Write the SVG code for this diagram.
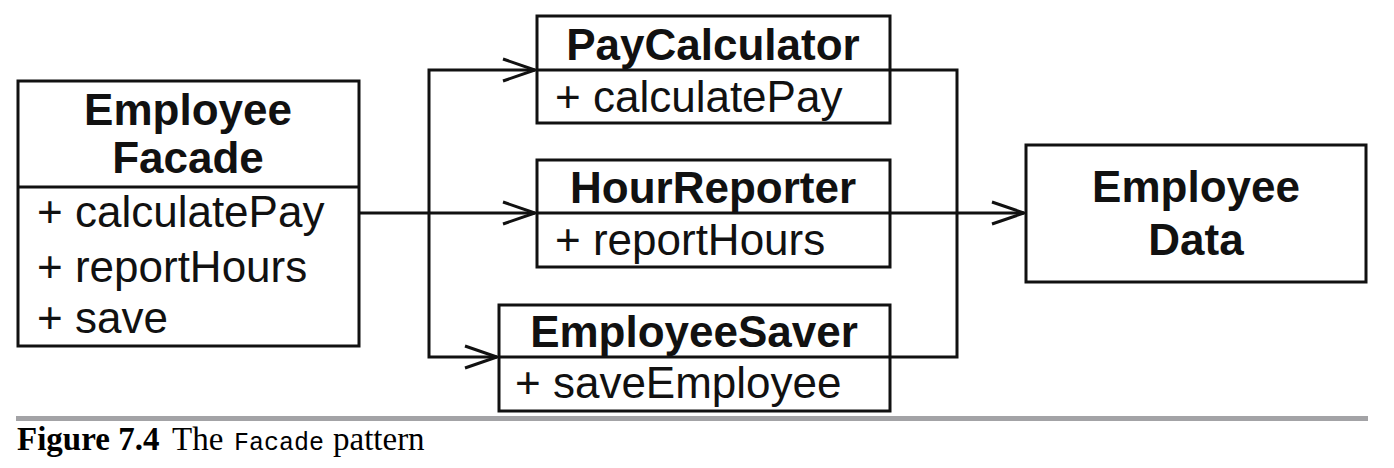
<svg xmlns="http://www.w3.org/2000/svg" width="1394" height="468" viewBox="0 0 1394 468">
<defs>
<style>
.box{fill:#fff;stroke:#111;stroke-width:3}
.ln{fill:none;stroke:#111;stroke-width:3}
.t{font-family:"Liberation Sans",Arial,sans-serif;font-size:44px;fill:#111}
.b{font-weight:bold;text-anchor:middle}
.cap{font-family:"Liberation Serif","Times New Roman",serif;font-size:33px;fill:#000}
.mono{font-family:"Liberation Mono","Courier New",monospace;font-size:25px}
</style>
<marker id="arr" markerWidth="40" markerHeight="30" refX="34" refY="13" orient="auto" markerUnits="userSpaceOnUse" viewBox="0 0 40 30">
<path d="M2,2 L34,13 L2,24" fill="none" stroke="#111" stroke-width="3"/>
</marker>
</defs>
<rect width="1394" height="468" fill="#fff"/>
<g id="connectors">
<path class="ln" d="M359,213 H535" marker-end="url(#arr)"/>
<path class="ln" d="M429,213 V70 H535" marker-end="url(#arr)"/>
<path class="ln" d="M429,213 V357 H497" marker-end="url(#arr)"/>
<path class="ln" d="M890,70 H957 V357 H890"/>
<path class="ln" d="M890,213 H1024" marker-end="url(#arr)"/>
</g>
<g id="employee-facade">
<rect class="box" x="18" y="81" width="341" height="265"/>
<line class="ln" x1="18" y1="187" x2="359" y2="187"/>
<text class="t b" x="188" y="125">Employee</text>
<text class="t b" x="188" y="173">Facade</text>
<text class="t" x="37" y="227">+ calculatePay</text>
<text class="t" x="37" y="282">+ reportHours</text>
<text class="t" x="37" y="333">+ save</text>
</g>
<g id="pay-calculator">
<rect class="box" x="537" y="16" width="353" height="107"/>
<line class="ln" x1="537" y1="70" x2="890" y2="70"/>
<text class="t b" x="713" y="60">PayCalculator</text>
<text class="t" x="555" y="112">+ calculatePay</text>
</g>
<g id="hour-reporter">
<rect class="box" x="537" y="160" width="353" height="107"/>
<line class="ln" x1="537" y1="213" x2="890" y2="213"/>
<text class="t b" x="713" y="203">HourReporter</text>
<text class="t" x="555" y="255">+ reportHours</text>
</g>
<g id="employee-saver">
<rect class="box" x="499" y="305" width="391" height="106"/>
<line class="ln" x1="499" y1="357" x2="890" y2="357"/>
<text class="t b" x="694" y="347">EmployeeSaver</text>
<text class="t" x="515" y="398">+ saveEmployee</text>
</g>
<g id="employee-data">
<rect class="box" x="1026" y="145" width="340" height="137"/>
<text class="t b" x="1196" y="202">Employee</text>
<text class="t b" x="1196" y="255">Data</text>
</g>
<g id="caption">
<rect x="16" y="416" width="1352" height="5" fill="#a3a3a6"/>
<text class="cap" x="17" y="450"><tspan font-weight="bold">Figure 7.4</tspan><tspan x="172">The</tspan><tspan class="mono" x="234">Facade</tspan><tspan x="333">pattern</tspan></text>
</g>
</svg>
